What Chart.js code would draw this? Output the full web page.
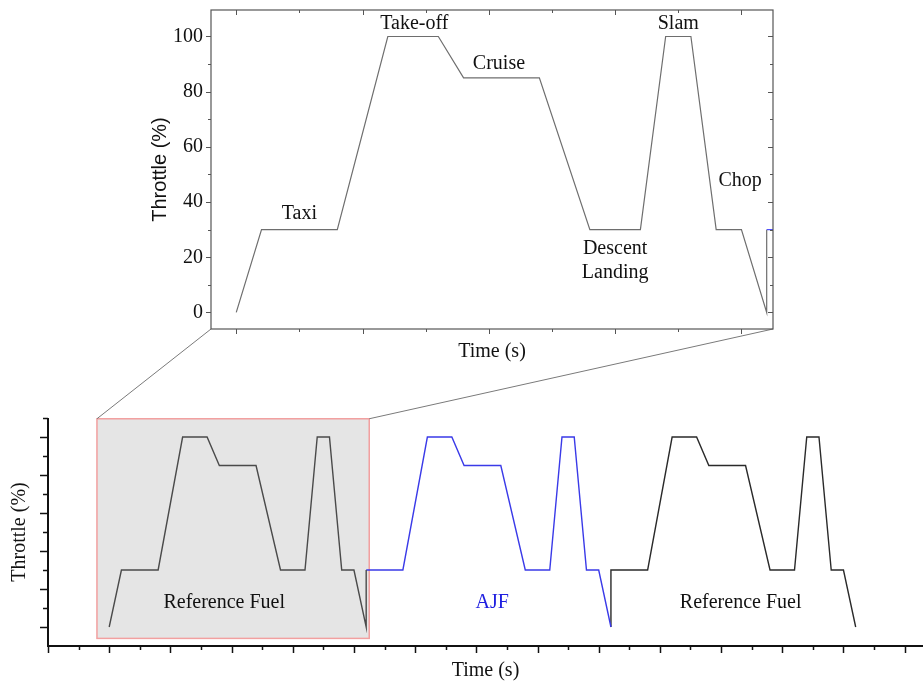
<!DOCTYPE html>
<html><head><meta charset="utf-8">
<script src="https://cdn.jsdelivr.net/npm/chart.js@4.4.0/dist/chart.umd.min.js"></script>
<style>
html,body{margin:0;padding:0;background:#fff;}
#wrap{position:relative;width:923px;height:685px;overflow:hidden;background:#fff;}
canvas{position:absolute;left:0;top:0;}
</style></head><body>
<div id="wrap"><canvas id="bottom" width="923" height="685"></canvas><canvas id="top" width="923" height="685"></canvas></div>
<script>
// ---- data (time in s, throttle in %) ----
const refFuel1Time     = [0, 2, 8, 12, 16, 18, 24, 28, 32, 34, 36, 38, 40, 42, 42];
const refFuel1Throttle = [0, 30, 30, 100, 100, 85, 85, 30, 30, 100, 100, 30, 30, 0, 30];
const ajfTime          = [42, 48, 52, 56, 58, 64, 68, 72, 74, 76, 78, 80, 82];
const ajfThrottle      = [30, 30, 100, 100, 85, 85, 30, 30, 100, 100, 30, 30, 0];
const refFuel2Time     = [82, 82, 88, 92, 96, 98, 104, 108, 112, 114, 116, 118, 120, 122];
const refFuel2Throttle = [0, 30, 30, 100, 100, 85, 85, 30, 30, 100, 100, 30, 30, 0];

const phaseLabels        = ['Taxi', 'Take-off', 'Cruise', 'Descent', 'Landing', 'Slam', 'Chop'];
const phaseLabelTime     = [5.0, 14.1, 20.8, 30.0, 30.0, 35.0, 39.9];
const phaseLabelThrottle = [35.8, 104.6, 90.1, 23.2, 14.3, 104.7, 47.7];

const fuelLabels        = ['Reference Fuel', 'AJF', 'Reference Fuel'];
const fuelLabelTime     = [18.8, 62.6, 103.2];
const fuelLabelThrottle = [13.0, 13.0, 13.0];

const topYTickLabels = [0, 20, 40, 60, 80, 100];
const zoomTimeRange = [-2, 42.5];
const zoomThrottleRange = [-6, 109.6];
const fullTimeRange = [-10, 133];
const fullThrottleRange = [-10, 110];

function pts(t, v) { return t.map((x, i) => ({x: x, y: v[i]})); }

const SERIF = '"Liberation Serif", "Times New Roman", serif';
const SANS = '"Liberation Sans", Arial, sans-serif';

function drawTicksX(ctx, sc, y, from, to, step, len, dir) {
  for (let v = from; v <= to + 1e-9; v += step) {
    const px = Math.round(sc.getPixelForValue(v)) + 0.5;
    ctx.beginPath(); ctx.moveTo(px, y); ctx.lineTo(px, y + dir * len); ctx.stroke();
  }
}
function drawTicksY(ctx, sc, x, from, to, step, len, dir) {
  for (let v = from; v <= to + 1e-9; v += step) {
    const py = Math.round(sc.getPixelForValue(v)) + 0.5;
    ctx.beginPath(); ctx.moveTo(x, py); ctx.lineTo(x + dir * len, py); ctx.stroke();
  }
}

const topDecor = {
  id: 'topDecor',
  afterDatasetsDraw(chart) {
    const {ctx, chartArea: a, scales: {x, y}} = chart;
    ctx.save();
    ctx.strokeStyle = '#555'; ctx.lineWidth = 1.2;
    ctx.strokeRect(a.left, a.top, a.right - a.left, a.bottom - a.top);
    ctx.lineWidth = 1;
    // x ticks: bottom outward, top inward
    drawTicksX(ctx, x, a.bottom, 0, 40, 10, 5, 1);
    drawTicksX(ctx, x, a.bottom, 5, 35, 10, 3, 1);
    drawTicksX(ctx, x, a.top, 0, 40, 10, 5, 1);
    drawTicksX(ctx, x, a.top, 5, 35, 10, 3, 1);
    // y ticks: left outward, right inward
    drawTicksY(ctx, y, a.left, 0, 100, 20, 5, -1);
    drawTicksY(ctx, y, a.left, 10, 90, 20, 3, -1);
    drawTicksY(ctx, y, a.right, 0, 100, 20, 5, -1);
    drawTicksY(ctx, y, a.right, 10, 90, 20, 3, -1);
    ctx.font = '20px ' + SERIF; ctx.fillStyle = '#111';
    ctx.textAlign = 'center'; ctx.textBaseline = 'middle';
    phaseLabels.forEach((t, i) => ctx.fillText(t, x.getPixelForValue(phaseLabelTime[i]), y.getPixelForValue(phaseLabelThrottle[i])));
    ctx.restore();
  }
};

const topChart = new Chart(document.getElementById('top'), {
  type: 'line',
  data: { datasets: [
    {data: pts(refFuel1Time, refFuel1Throttle), borderColor: '#6e6e6e', borderWidth: 1.2, pointRadius: 0, tension: 0, fill: false},
    {data: pts(ajfTime, ajfThrottle), borderColor: '#5050ff', borderWidth: 1.2, pointRadius: 0, tension: 0, fill: false}
  ]},
  options: {
    responsive: false, animation: false, devicePixelRatio: 1,
    layout: {padding: {left: 140, right: 150, top: 10, bottom: 316}},
    plugins: {legend: {display: false}, tooltip: {enabled: false}},
    scales: {
      x: {type: 'linear', min: zoomTimeRange[0], max: zoomTimeRange[1],
        ticks: {display: false}, grid: {display: false}, border: {display: false},
        title: {display: true, text: 'Time (s)', color: '#111', font: {family: SERIF, size: 20}, padding: {top: 0, bottom: 5}},
        afterFit(s) { s.height = 40; s.paddingLeft = 0; s.paddingRight = 0; }},
      y: {type: 'linear', min: zoomThrottleRange[0], max: zoomThrottleRange[1],
        afterBuildTicks(s) { s.ticks = topYTickLabels.map(v => ({value: v})); },
        ticks: {color: '#111', font: {family: SERIF, size: 20}, padding: 4},
        grid: {display: true, drawOnChartArea: false, drawTicks: true, tickLength: 4, color: 'rgba(0,0,0,0)'},
        border: {display: false},
        title: {display: true, text: 'Throttle (%)', color: '#111', font: {family: SANS, size: 20}, padding: {top: 8, bottom: 0}},
        afterFit(s) { s.width = 71; s.paddingTop = 0; s.paddingBottom = 0; }}
    }
  },
  plugins: [topDecor]
});

const bottomDecor = {
  id: 'bottomDecor',
  beforeDatasetsDraw(chart) {
    const {ctx, scales: {x, y}} = chart;
    const l = x.getPixelForValue(zoomTimeRange[0]), r = x.getPixelForValue(zoomTimeRange[1]);
    const t = y.getPixelForValue(zoomThrottleRange[1]), b = y.getPixelForValue(zoomThrottleRange[0]);
    ctx.save();
    ctx.fillStyle = '#e5e5e5';
    ctx.fillRect(l, t, r - l, b - t);
    ctx.strokeStyle = '#f2a0a0'; ctx.lineWidth = 1.5;
    ctx.strokeRect(l, t, r - l, b - t);
    // connectors to zoomed chart
    const ta = topChart.chartArea;
    ctx.strokeStyle = '#7a7a7a'; ctx.lineWidth = 1;
    ctx.beginPath(); ctx.moveTo(l, t); ctx.lineTo(ta.left, ta.bottom); ctx.stroke();
    ctx.beginPath(); ctx.moveTo(r, t); ctx.lineTo(ta.right, ta.bottom); ctx.stroke();
    ctx.restore();
  },
  afterDatasetsDraw(chart) {
    const {ctx, chartArea: a, scales: {x, y}} = chart;
    ctx.save();
    ctx.strokeStyle = '#111'; ctx.lineWidth = 2;
    ctx.beginPath(); ctx.moveTo(a.left, a.top); ctx.lineTo(a.left, a.bottom); ctx.lineTo(a.right, a.bottom); ctx.stroke();
    ctx.lineWidth = 1.5;
    drawTicksX(ctx, x, a.bottom, -10, 130, 10, 7, 1);
    drawTicksX(ctx, x, a.bottom, -5, 125, 10, 4, 1);
    drawTicksY(ctx, y, a.left, 0, 100, 20, 8, -1);
    drawTicksY(ctx, y, a.left, 10, 110, 20, 5, -1);
    ctx.font = '20px ' + SERIF;
    ctx.textAlign = 'center'; ctx.textBaseline = 'middle';
    const cols = ['#111', '#2020e0', '#111'];
    fuelLabels.forEach((t, i) => { ctx.fillStyle = cols[i]; ctx.fillText(t, x.getPixelForValue(fuelLabelTime[i]), y.getPixelForValue(fuelLabelThrottle[i])); });
    ctx.restore();
  }
};

const bottomChart = new Chart(document.getElementById('bottom'), {
  type: 'line',
  data: { datasets: [
    {data: pts(refFuel1Time, refFuel1Throttle), borderColor: '#4a4a4a', borderWidth: 1.4, pointRadius: 0, tension: 0, fill: false},
    {data: pts(ajfTime, ajfThrottle), borderColor: '#3a3ae8', borderWidth: 1.4, pointRadius: 0, tension: 0, fill: false},
    {data: pts(refFuel2Time, refFuel2Throttle), borderColor: '#2a2a2a', borderWidth: 1.4, pointRadius: 0, tension: 0, fill: false}
  ]},
  options: {
    responsive: false, animation: false, devicePixelRatio: 1,
    layout: {padding: {left: 0, right: 0, top: 418, bottom: 0}},
    plugins: {legend: {display: false}, tooltip: {enabled: false}},
    scales: {
      x: {type: 'linear', min: fullTimeRange[0], max: fullTimeRange[1],
        ticks: {display: false}, grid: {display: false}, border: {display: false},
        title: {display: true, text: 'Time (s)', color: '#111', font: {family: SERIF, size: 20}, padding: {top: 0, bottom: 2}},
        afterFit(s) { s.height = 39; s.paddingLeft = 0; s.paddingRight = 0; }},
      y: {type: 'linear', min: fullThrottleRange[0], max: fullThrottleRange[1],
        ticks: {display: false}, grid: {display: false}, border: {display: false},
        title: {display: true, text: 'Throttle (%)', color: '#111', font: {family: SERIF, size: 20}, padding: {top: 8, bottom: 0}},
        afterFit(s) { s.width = 48; s.paddingTop = 0; s.paddingBottom = 0; }}
    }
  },
  plugins: [bottomDecor]
});
</script>
</body></html>
